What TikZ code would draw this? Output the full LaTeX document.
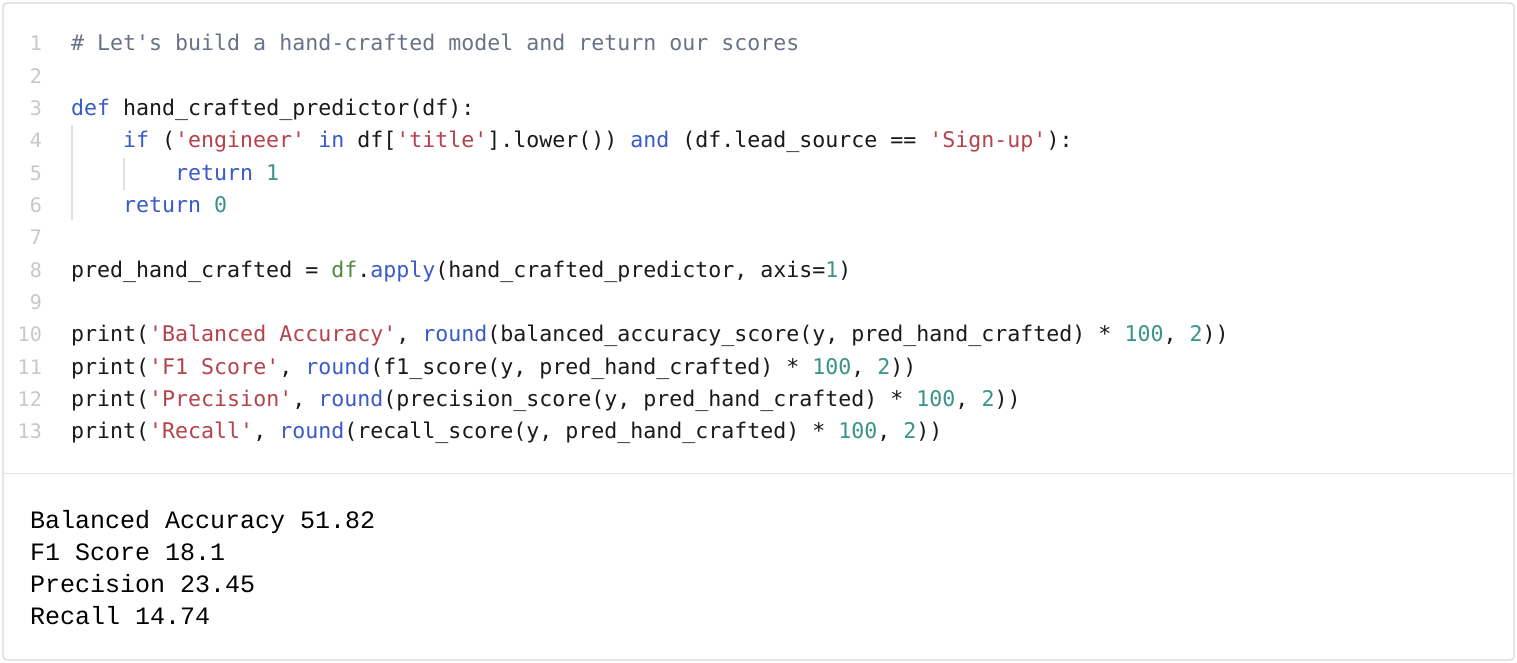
\documentclass[tikz,border=0pt]{standalone}
\usepackage{fontspec}
\newfontfamily\codefont{DejaVu Sans Mono}
\newfontfamily\outfont{Liberation Mono}
\definecolor{cm}{HTML}{6A7385}
\definecolor{kw}{HTML}{3A5BC7}
\definecolor{st}{HTML}{B5434D}
\definecolor{nm}{HTML}{3A9488}
\definecolor{gn}{HTML}{4E8A3E}
\definecolor{ln}{HTML}{C8C8C8}
\definecolor{tx}{HTML}{1A1A1A}
\newcommand{\K}[1]{\textcolor{kw}{#1}}
\newcommand{\Sx}[1]{\textcolor{st}{#1}}
\newcommand{\N}[1]{\textcolor{nm}{#1}}
\newcommand{\G}[1]{\textcolor{gn}{#1}}
\begin{document}
\begin{tikzpicture}[x=1pt,y=-1pt,
  code/.style={anchor=base west,inner sep=0pt,font=\codefont\fontsize{21.6}{24}\selectfont,text=tx},
  lnum/.style={anchor=base east,inner sep=0pt,font=\codefont\fontsize{20}{24}\selectfont,text=ln},
  outtext/.style={anchor=base west,inner sep=0pt,font=\outfont\fontsize{25}{28}\selectfont,text=black}]
\useasboundingbox (0,0) rectangle (1517,663);
\draw[draw=black!15,line width=1.2pt,rounded corners=4pt,fill=white] (3,3) rectangle (1514,660);
\draw[black!10,line width=1pt] (3,473) -- (1514,473);
\draw[black!12,line width=1.2pt] (72,125) -- (72,220);
\draw[black!12,line width=1.2pt] (124,158) -- (124,190);
\foreach \i in {1,...,13}{\node[lnum] (l\i) at (42,{51+(\i-1)*32.3}) {\i};}
\node[code,text=cm] (c1) at (71,51) {\# Let's build a hand-crafted model and return our scores};
\node[code] (c3) at (71,115.6) {\K{def} hand\_crafted\_predictor(df):};
\node[code] (c4) at (123,147.9) {\K{if} (\Sx{'engineer'} \K{in} df[\Sx{'title'}].lower()) \K{and} (df.lead\_source == \Sx{'Sign-up'}):};
\node[code] (c5) at (175,180.2) {\K{return} \N{1}};
\node[code] (c6) at (123,212.5) {\K{return} \N{0}};
\node[code] (c8) at (71,277.1) {pred\_hand\_crafted = \G{df}.\K{apply}(hand\_crafted\_predictor, axis=\N{1})};
\node[code] (c10) at (71,341.7) {print(\Sx{'Balanced Accuracy'}, \K{round}(balanced\_accuracy\_score(y, pred\_hand\_crafted) * \N{100}, \N{2}))};
\node[code] (c11) at (71,374) {print(\Sx{'F1 Score'}, \K{round}(f1\_score(y, pred\_hand\_crafted) * \N{100}, \N{2}))};
\node[code] (c12) at (71,406.3) {print(\Sx{'Precision'}, \K{round}(precision\_score(y, pred\_hand\_crafted) * \N{100}, \N{2}))};
\node[code] (c13) at (71,438.6) {print(\Sx{'Recall'}, \K{round}(recall\_score(y, pred\_hand\_crafted) * \N{100}, \N{2}))};
\node[outtext] (o1) at (30,528) {Balanced Accuracy 51.82};
\node[outtext] (o2) at (30,560) {F1 Score 18.1};
\node[outtext] (o3) at (30,592) {Precision 23.45};
\node[outtext] (o4) at (30,624) {Recall 14.74};
\end{tikzpicture}
\end{document}
